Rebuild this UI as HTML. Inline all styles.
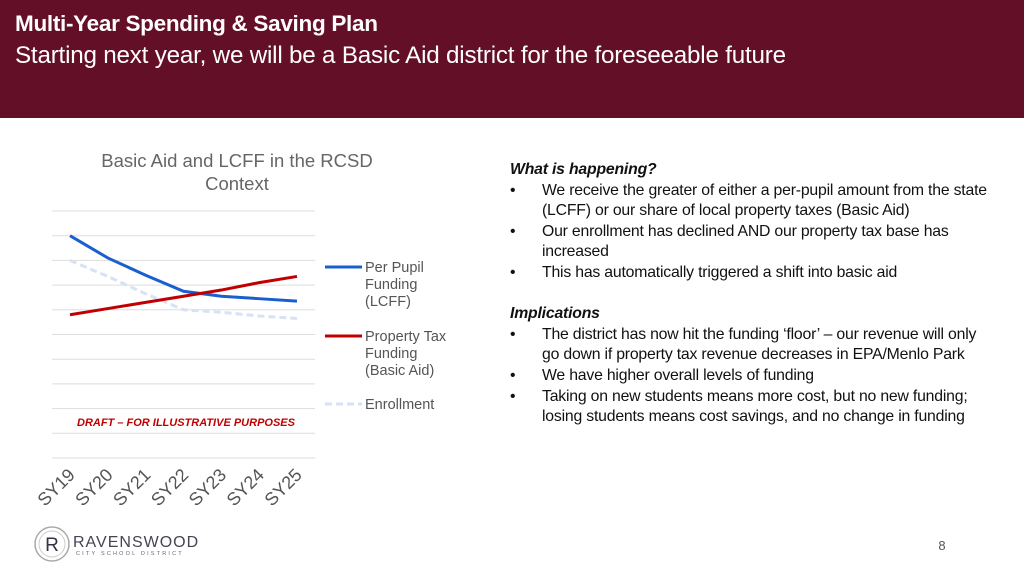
<!DOCTYPE html>
<html><head><meta charset="utf-8"><style>
body{margin:0;width:1024px;height:576px;overflow:hidden;background:#fff;font-family:"Liberation Sans",sans-serif;position:relative}
.hdr{position:absolute;left:0;top:0;width:1024px;height:118px;background:#640f28;color:#fff}
.t1{position:absolute;left:15px;top:11px;font-size:22.5px;font-weight:bold;letter-spacing:-0.3px}
.t2{position:absolute;left:15px;top:42px;font-size:24.2px;letter-spacing:-0.2px;white-space:nowrap}
.txt{position:absolute;left:510px;top:160px;width:480px;font-size:15.8px;line-height:20.6px;color:#111;letter-spacing:-0.2px}
.txt .h{font-weight:bold;font-style:italic}
.li{position:relative;padding-left:32px}
.li:before{content:"•";position:absolute;left:0}
</style></head><body>
<div class="hdr">
<div class="t1">Multi-Year Spending &amp; Saving Plan</div>
<div class="t2">Starting next year, we will be a Basic Aid district for the foreseeable future</div>
</div>
<svg width="1024" height="576" style="position:absolute;left:0;top:0">
<text x="237" y="167" text-anchor="middle" font-size="18.5" fill="#666">Basic Aid and LCFF in the RCSD</text>
<text x="237" y="190" text-anchor="middle" font-size="18.5" fill="#666">Context</text>
<g id="grid"></g><g id="lines"></g><g id="xlab"></g>
<text x="77" y="426" font-size="11" font-weight="bold" font-style="italic" fill="#c00000">DRAFT – FOR ILLUSTRATIVE PURPOSES</text>
<g font-size="14.5" fill="#555">
<line x1="325" y1="267" x2="362" y2="267" stroke="#1a5fcf" stroke-width="3"/>
<text x="365" y="272">Per Pupil</text><text x="365" y="289">Funding</text><text x="365" y="306">(LCFF)</text>
<line x1="325" y1="336" x2="362" y2="336" stroke="#c00000" stroke-width="3"/>
<text x="365" y="341">Property Tax</text><text x="365" y="358">Funding</text><text x="365" y="375">(Basic Aid)</text>
<line x1="325" y1="404" x2="362" y2="404" stroke="#d6e2f5" stroke-width="3" stroke-dasharray="7,4"/>
<text x="365" y="409">Enrollment</text>
</g>
<g>
<circle cx="52" cy="544" r="17" fill="none" stroke="#aaa" stroke-width="1.5"/>
<circle cx="52" cy="544" r="13" fill="none" stroke="#ccc" stroke-width="1"/>
<text x="52" y="551" text-anchor="middle" font-size="19" fill="#334">R</text>
<text x="73" y="547" font-size="16" fill="#445" letter-spacing="1">RAVENSWOOD</text>
<text x="76" y="555" font-size="5.5" fill="#667" letter-spacing="2.2">CITY SCHOOL DISTRICT</text>
</g>
<text x="942" y="550" text-anchor="middle" font-size="13" fill="#555">8</text>
</svg>
<div class="txt">
<div class="h">What is happening?</div>
<div class="li">We receive the greater of either a per-pupil amount from the state (LCFF) or our share of local property taxes (Basic Aid)</div>
<div class="li">Our enrollment has declined AND our property tax base has increased</div>
<div class="li">This has automatically triggered a shift into basic aid</div>
<div style="height:20.6px"></div>
<div class="h">Implications</div>
<div class="li">The district has now hit the funding ‘floor’ – our revenue will only go down if property tax revenue decreases in EPA/Menlo Park</div>
<div class="li">We have higher overall levels of funding</div>
<div class="li">Taking on new students means more cost, but no new funding; losing students means cost savings, and no change in funding</div>
</div>
<script>
const categories=["SY19","SY20","SY21","SY22","SY23","SY24","SY25"];
const lcff=[9.0,8.1,7.4,6.75,6.55,6.45,6.35];
const propertyTax=[5.8,6.05,6.3,6.55,6.8,7.1,7.35];
const enrollment=[8.0,7.35,6.65,6.0,5.9,5.75,5.65];
const gridValues=[0,1,2,3,4,5,6,7,8,9,10];
const NS="http://www.w3.org/2000/svg";
const xS=i=>70+i*(297-70)/(categories.length-1);
const yS=v=>458-v*24.7;
const g=document.getElementById('grid');
gridValues.forEach(v=>{const l=document.createElementNS(NS,'line');
l.setAttribute('x1',52);l.setAttribute('x2',315);l.setAttribute('y1',yS(v));l.setAttribute('y2',yS(v));
l.setAttribute('stroke','#ddd');l.setAttribute('stroke-width','1');


g.appendChild(l);});
const L=document.getElementById('lines');
[[enrollment,'#d6e2f5','7,4','enrollment-line'],[lcff,'#1a5fcf','','lcff-line'],[propertyTax,'#c00000','','property-tax-line']].forEach(([d,c,da,n])=>{
const p=document.createElementNS(NS,'polyline');
p.setAttribute('points',d.map((v,i)=>xS(i)+','+yS(v)).join(' '));
p.setAttribute('fill','none');p.setAttribute('stroke',c);p.setAttribute('stroke-width','3');
if(da)p.setAttribute('stroke-dasharray',da);


L.appendChild(p);});
const X=document.getElementById('xlab');
categories.forEach((c,i)=>{const t=document.createElementNS(NS,'text');
const x=xS(i)+6,y=476;
t.setAttribute('x',x);t.setAttribute('y',y);t.setAttribute('text-anchor','end');
t.setAttribute('font-size','18');t.setAttribute('fill','#555');
t.setAttribute('transform','rotate(-45 '+x+' '+y+')');t.textContent=c;


X.appendChild(t);});
</script>
</body></html>
